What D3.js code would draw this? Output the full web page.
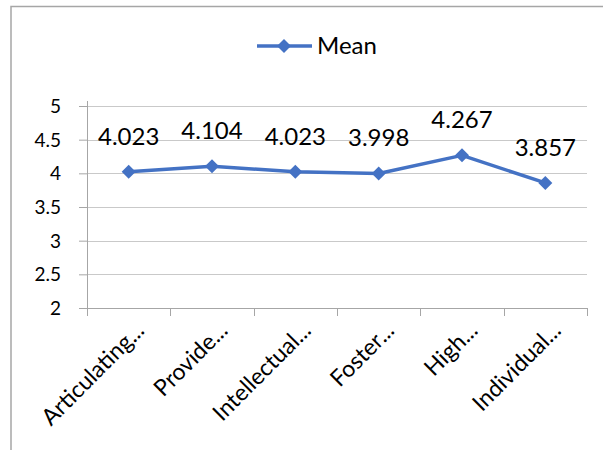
<!DOCTYPE html>
<html>
<head>
<meta charset="utf-8">
<script src="https://cdn.jsdelivr.net/npm/d3@7"></script>
<style>
  body { margin: 0; background: #fff; }
  text { font-family: Lato, "Open Sans", sans-serif; fill: #000; }
</style>
</head>
<body>
<svg></svg>
<script>
// chart data
const categories = ['Articulating...', 'Provide...', 'Intellectual...', 'Foster...', 'High...', 'Individual...'];
const meanValues = [4.023, 4.104, 4.023, 3.998, 4.267, 3.857];
const yTicks = [2, 2.5, 3, 3.5, 4, 4.5, 5];
const seriesName = 'Mean';

const width = 603, height = 450;
const margin = { left: 87, right: 16, top: 106, bottom: 142 };
const plotW = width - margin.left - margin.right;
const plotH = height - margin.top - margin.bottom;
const blue = '#4472c4';
const axisGray = '#a6a6a6';

const svg = d3.select('svg')
    .attr('width', width)
    .attr('height', height);

// outer chart frame (runs off the right and bottom edge)
svg.append('path')
    .attr('d', `M11,${height + 5} V6.5 H${width + 5}`)
    .attr('fill', 'none')
    .attr('stroke', axisGray)
    .attr('stroke-width', 1.5);

// scales
const x = d3.scaleBand()
    .domain(categories)
    .range([0, plotW]);

const y = d3.scaleLinear()
    .domain([2, 5])
    .range([plotH, 0]);

const g = svg.append('g')
    .attr('transform', `translate(${margin.left},${margin.top})`);

// gridlines
g.append('g')
    .selectAll('line')
    .data(yTicks.filter(d => d !== 2))
    .join('line')
    .attr('x1', 0)
    .attr('x2', plotW)
    .attr('y1', d => Math.round(y(d)) + 0.5)
    .attr('y2', d => Math.round(y(d)) + 0.5)
    .attr('stroke', '#c9c9c9');

// y axis
const yAxis = d3.axisLeft(y)
    .tickValues(yTicks)
    .tickSize(8)
    .tickPadding(18)
    .tickFormat(d3.format('~g'));

const yG = g.append('g').call(yAxis);
yG.select('.domain').attr('stroke', axisGray).attr('d', `M0.5,-5V${plotH + 8}`);
yG.selectAll('.tick line').attr('stroke', axisGray);
yG.selectAll('.tick text')
    .style('font-size', '19px')
    .attr('dy', '0.35em');

// x axis with ticks between categories
const xG = g.append('g')
    .attr('transform', `translate(0,${plotH})`);

xG.append('line')
    .attr('x1', 0).attr('x2', plotW)
    .attr('y1', 0.5).attr('y2', 0.5)
    .attr('stroke', axisGray);

const boundaries = categories.map(c => x(c)).concat([plotW]);
xG.selectAll('.xtick')
    .data(boundaries)
    .join('line')
    .attr('class', 'xtick')
    .attr('x1', d => Math.round(d) + 0.5)
    .attr('x2', d => Math.round(d) + 0.5)
    .attr('y1', 0)
    .attr('y2', 8)
    .attr('stroke', axisGray);

xG.selectAll('.xlabel')
    .data(categories)
    .join('text')
    .attr('class', 'xlabel')
    .attr('text-anchor', 'end')
    .attr('transform', d => `translate(${x(d) + x.bandwidth() / 2 + 17},${24}) rotate(-45)`)
    .style('font-size', '23px')
    .text(d => d);

// line
const cx = (d, i) => x(categories[i]) + x.bandwidth() / 2;

const line = d3.line()
    .x((d, i) => cx(d, i))
    .y(d => y(d));

g.append('path')
    .datum(meanValues)
    .attr('d', line)
    .attr('fill', 'none')
    .attr('stroke', blue)
    .attr('stroke-width', 3.5)
    .attr('stroke-linejoin', 'round');

// diamond markers
const diamond = d3.symbol().type(d3.symbolDiamond2).size(125);
g.selectAll('.dot')
    .data(meanValues)
    .join('path')
    .attr('class', 'dot')
    .attr('d', diamond)
    .attr('transform', (d, i) => `translate(${cx(d, i)},${y(d)})`)
    .attr('fill', blue);

// data labels
g.selectAll('.label')
    .data(meanValues)
    .join('text')
    .attr('class', 'label')
    .attr('x', (d, i) => cx(d, i))
    .attr('y', d => y(d) - 27)
    .attr('text-anchor', 'middle')
    .style('font-size', '24px')
    .text(d => d3.format('.3f')(d));

// legend
const legend = svg.append('g')
    .attr('transform', 'translate(257,46)');

legend.append('line')
    .attr('x1', 0).attr('x2', 55)
    .attr('y1', 0).attr('y2', 0)
    .attr('stroke', blue)
    .attr('stroke-width', 3.5);

legend.append('path')
    .attr('d', diamond)
    .attr('transform', 'translate(27,0)')
    .attr('fill', blue);

legend.append('text')
    .attr('x', 60)
    .attr('y', 0)
    .attr('dy', '0.35em')
    .style('font-size', '24px')
    .text(seriesName);
</script>
</body>
</html>
